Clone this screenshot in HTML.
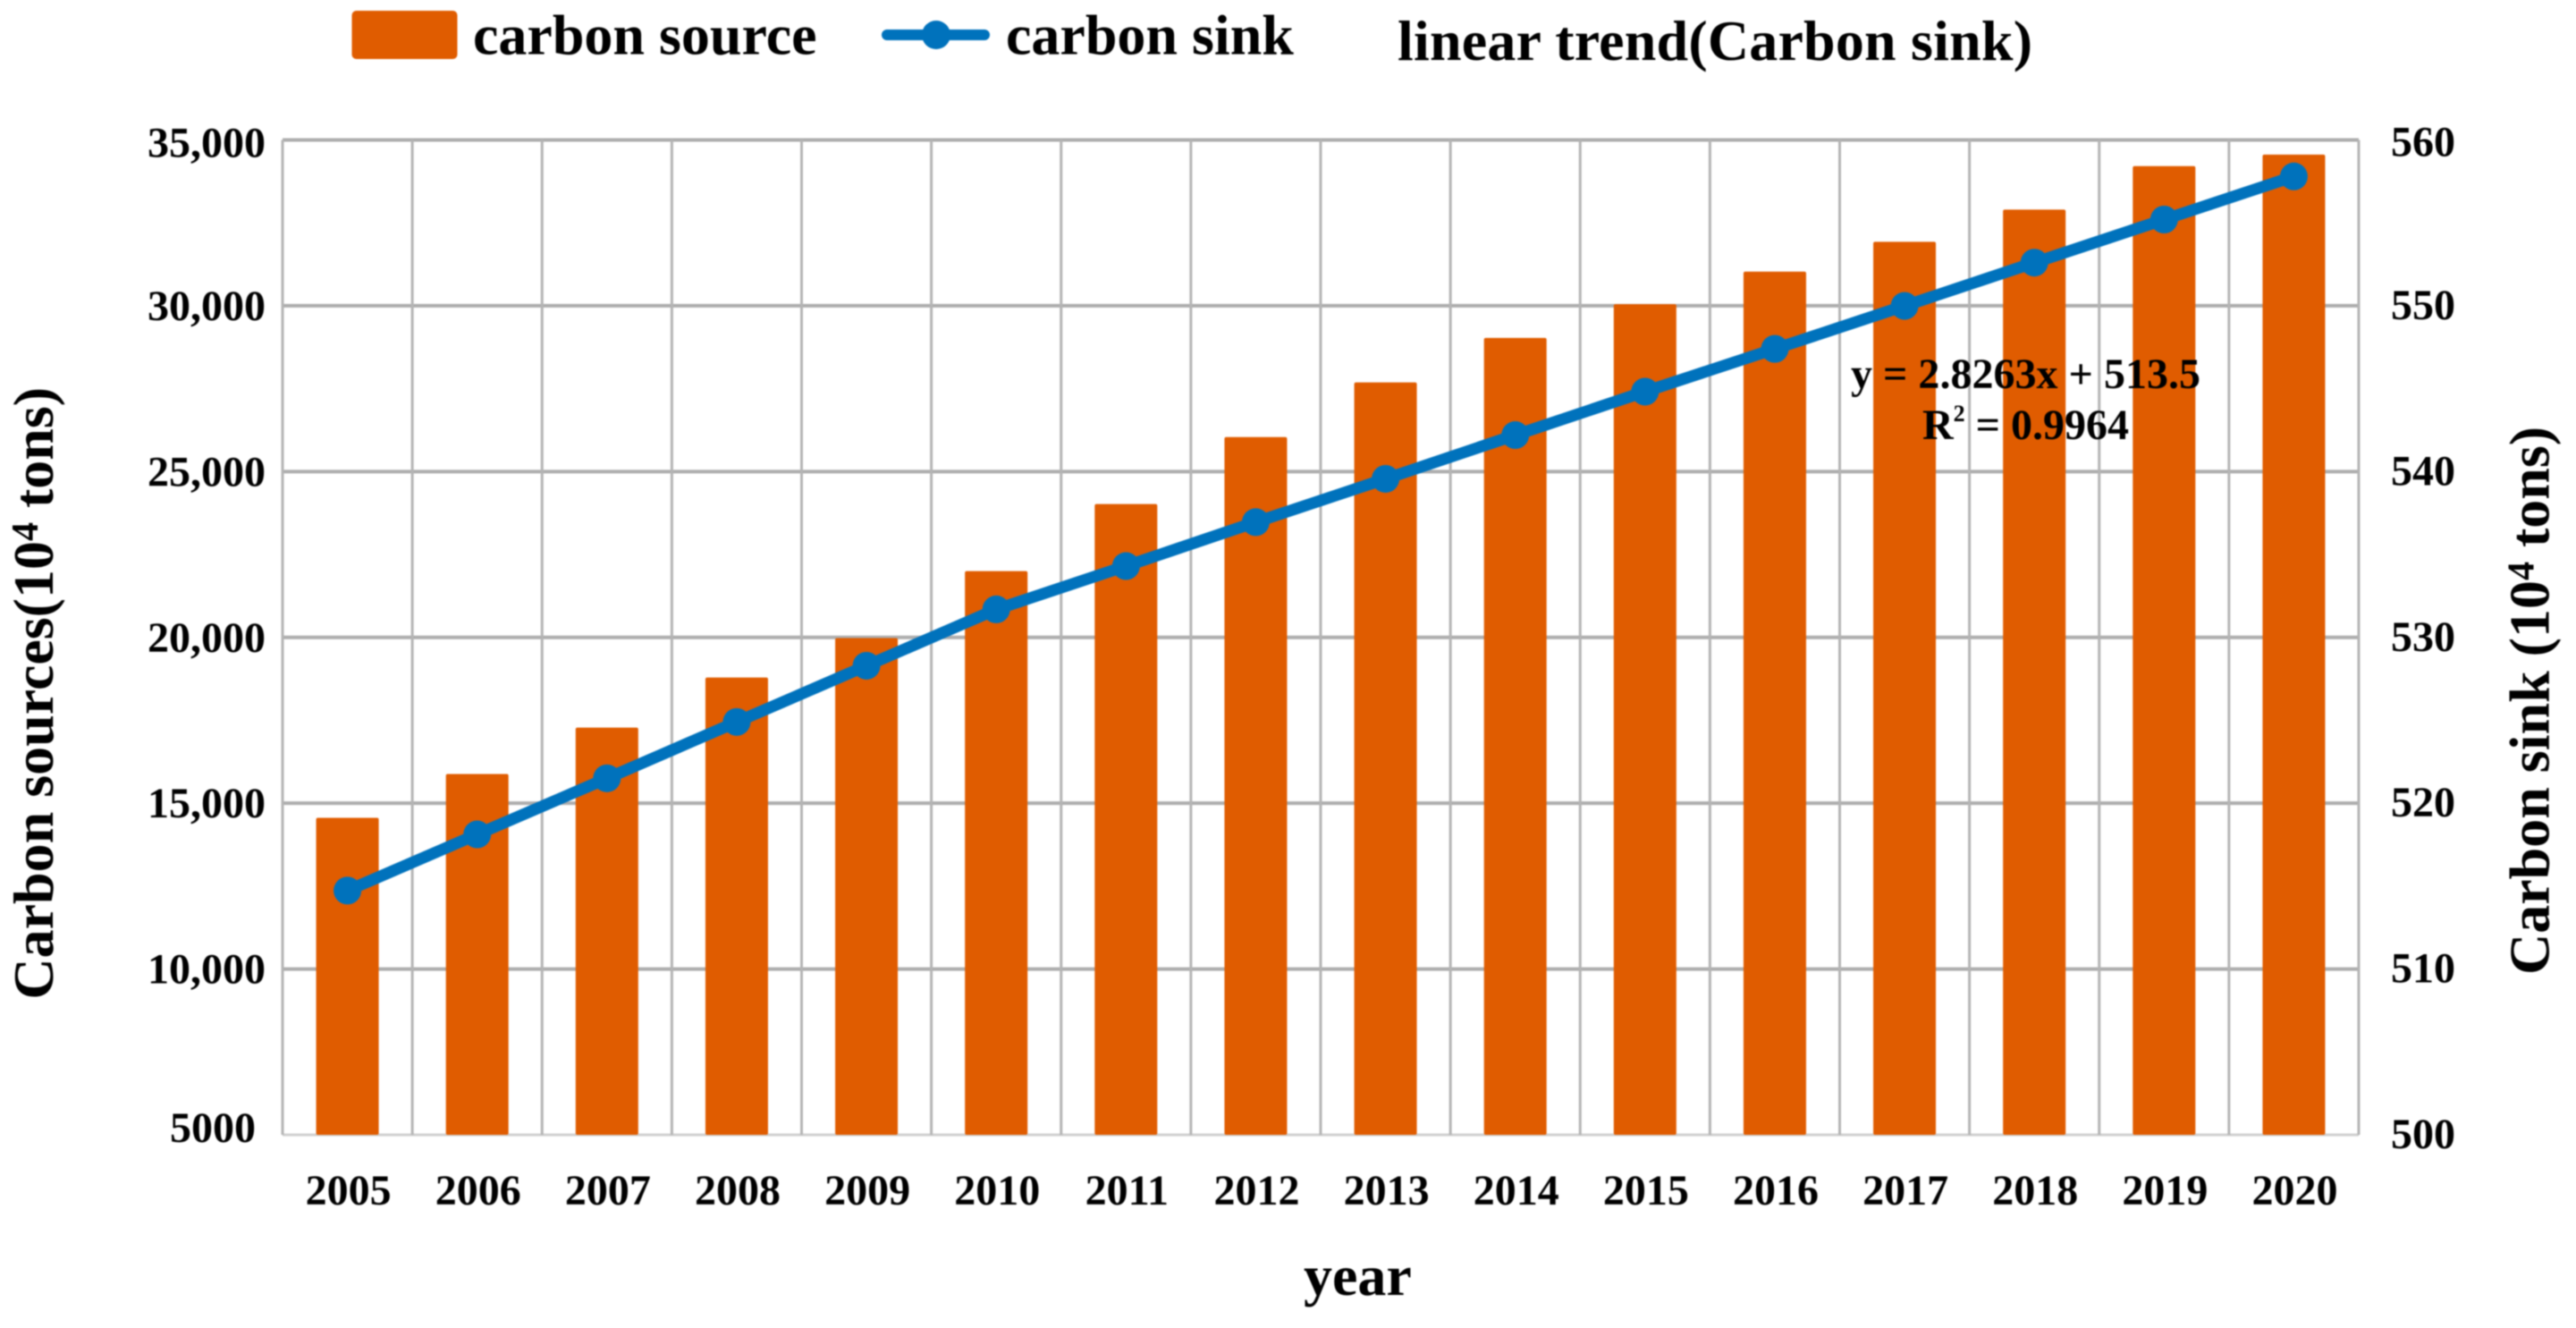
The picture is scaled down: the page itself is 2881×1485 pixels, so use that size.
<!DOCTYPE html>
<html lang="en">
<head>
<meta charset="utf-8">
<title>Carbon source and carbon sink, 2005-2020</title>
<style>
  html, body { margin: 0; padding: 0; background: #fff; width: 2881px; height: 1485px; overflow: hidden; }
  svg { display: block; filter: blur(0.9px); }
  text { font-family: "Liberation Serif", serif; font-weight: bold; fill: #000; }
</style>
</head>
<body>
<svg id="chart" xmlns="http://www.w3.org/2000/svg" width="2881" height="1485" viewBox="0 0 2881 1485">
  <rect x="0" y="0" width="2881" height="1485" fill="#ffffff"/>
  <g id="grid"></g>
  <g id="bars"></g>
  <g id="sink"></g>
  <g id="leftTicks"></g>
  <g id="rightTicks"></g>
  <g id="xTicks"></g>

  <g>
    <rect x="393.5" y="12" width="118" height="54" rx="5" fill="#E05C00"/>
    <text x="529" y="60.7" font-size="64">carbon source</text>
    <line x1="992" y1="39" x2="1101" y2="39" stroke="#0072BC" stroke-width="12" stroke-linecap="round"/>
    <circle cx="1047" cy="39" r="16" fill="#0072BC"/>
    <text x="1125" y="60.7" font-size="64">carbon sink</text>
    <text x="1563" y="67" font-size="64" textLength="710">linear trend(Carbon sink)</text>
  </g>

  <text transform="translate(59,1117.6) rotate(-90)" font-size="64">Carbon sources(10<tspan dy="-17" font-size="42">4</tspan><tspan dy="17"> tons)</tspan></text>
  <text transform="translate(2850.7,1090) rotate(-90)" font-size="64">Carbon sink (10<tspan dy="-17" font-size="42">4</tspan><tspan dy="17"> tons)</tspan></text>
  <text x="1458" y="1448" font-size="64">year</text>

  <text x="2070" y="434" font-size="48" textLength="391">y = 2.8263x + 513.5</text>
  <text x="2150" y="491" font-size="48">R<tspan dy="-20" font-size="26">2</tspan><tspan dy="20"> = 0.9964</tspan></text>
</svg>

<script>
const years = ["2005","2006","2007","2008","2009","2010","2011","2012","2013","2014","2015","2016","2017","2018","2019","2020"];
const carbonSource = [14560,15880,17280,18790,19980,22000,24020,26040,27690,29030,30050,31030,31930,32900,34210,34560];
const carbonSink = [514.73,518.12,521.5,524.9,528.29,531.69,534.3,536.95,539.56,542.2,544.82,547.4,549.99,552.6,555.2,557.8];
const leftTickValues = [5000,10000,15000,20000,25000,30000,35000];
const leftTickLabels = ["5000","10,000","15,000","20,000","25,000","30,000","35,000"];
const rightTickValues = [500,510,520,530,540,550,560];
const rightTickLabels = ["500","510","520","530","540","550","560"];

const NS = "http://www.w3.org/2000/svg";
const plotLeft = 316, plotRight = 2638, plotTop = 156.5, plotBottom = 1269;
const leftMin = 5000, leftMax = 35000, rightMin = 500, rightMax = 560;
const barWidth = 70;

function bandWidth() { return (plotRight - plotLeft) / years.length; }
function xAt(i) { return plotLeft + bandWidth() * (i + 0.5); }
function yLeft(v) { return plotBottom - (v - leftMin) / (leftMax - leftMin) * (plotBottom - plotTop); }
function yRight(v) { return plotBottom - (v - rightMin) / (rightMax - rightMin) * (plotBottom - plotTop); }
function make(tag, attrs) {
  const el = document.createElementNS(NS, tag);
  for (const k in attrs) el.setAttribute(k, attrs[k]);
  return el;
}

const grid = document.getElementById("grid");
leftTickValues.forEach(function (v, i) {
  const bottom = i === 0;
  const line = make("line", { x1: plotLeft, x2: plotRight, y1: yLeft(v), y2: yLeft(v), stroke: bottom ? "#cfcfcf" : "#adadad", "stroke-width": bottom ? 3 : 4 });
  
  
  grid.appendChild(line);
});
for (let i = 0; i <= years.length; i++) {
  const gx = plotLeft + bandWidth() * i;
  const line = make("line", { x1: gx, x2: gx, y1: plotTop, y2: plotBottom, stroke: "#b4b4b4", "stroke-width": 3 });
  
  
  grid.appendChild(line);
}

const barsGroup = document.getElementById("bars");
carbonSource.forEach(function (v, i) {
  const top = yLeft(v);
  const bar = make("rect", { x: xAt(i) - barWidth / 2, y: top, width: barWidth, height: plotBottom - top, rx: 2, fill: "#E05C00" });
  
  
  barsGroup.appendChild(bar);
});

const sinkGroup = document.getElementById("sink");
const pts = carbonSink.map(function (v, i) { return xAt(i) + "," + yRight(v); }).join(" ");
const sinkLine = make("polyline", { points: pts, fill: "none", stroke: "#0072BC", "stroke-width": 13, "stroke-linejoin": "round" });


sinkGroup.appendChild(sinkLine);
carbonSink.forEach(function (v, i) {
  const dot = make("circle", { cx: xAt(i), cy: yRight(v), r: 15.5, fill: "#0072BC" });
  
  
  sinkGroup.appendChild(dot);
});

const leftTicks = document.getElementById("leftTicks");
leftTickValues.forEach(function (v, i) {
  const isBase = i === 0;
  const isTop = i === leftTickValues.length - 1;
  const label = make("text", { x: isBase ? 286 : 297, y: yLeft(v) + (isBase ? 8 : (isTop ? 19 : 16)), "font-size": 48, "text-anchor": "end" });
  label.textContent = leftTickLabels[i];
  
  
  leftTicks.appendChild(label);
});

const rightTicks = document.getElementById("rightTicks");
rightTickValues.forEach(function (v, i) {
  const isTop = i === rightTickValues.length - 1;
  const label = make("text", { x: 2674, y: yRight(v) + (isTop ? 18 : 15), "font-size": 48 });
  label.textContent = rightTickLabels[i];
  
  
  rightTicks.appendChild(label);
});

const xTicks = document.getElementById("xTicks");
years.forEach(function (y, i) {
  const label = make("text", { x: xAt(i) + 1, y: 1347, "font-size": 48, "text-anchor": "middle" });
  label.textContent = y;
  
  
  xTicks.appendChild(label);
});
</script>
</body>
</html>
